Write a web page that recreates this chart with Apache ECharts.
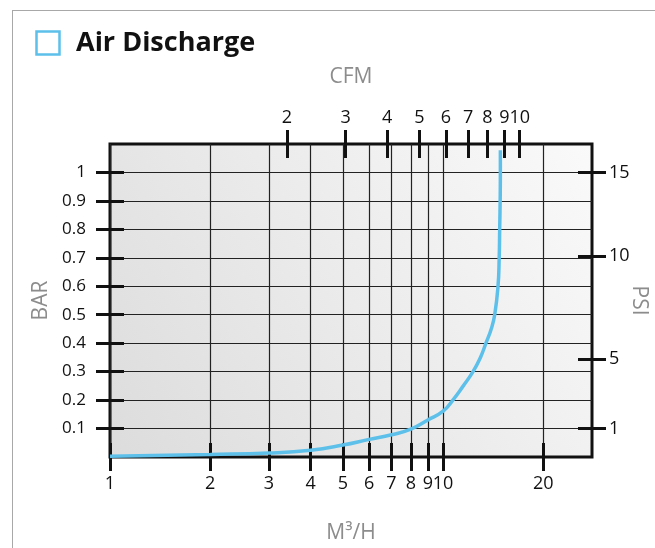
<!DOCTYPE html>
<html>
<head>
<meta charset="utf-8">
<script src="https://cdn.jsdelivr.net/npm/echarts@6/dist/echarts.min.js"></script>
<style>
  html, body { margin: 0; padding: 0; background: #fff; overflow: hidden; }
  .card-frame {
    position: absolute; left: 12px; top: 10px; width: 700px; height: 600px;
    border-left: 1.5px solid #a8a8a8; border-top: 1.5px solid #a8a8a8;
  }
  #chart { position: absolute; left: 0; top: 0; width: 655px; height: 548px; }
</style>
</head>
<body>
<div class="card-frame"></div>
<div id="chart"></div>
<script>
// flow in m3/h vs. pressure in bar
const flowM3h = [1, 2, 3, 4, 5, 6, 7, 8, 9, 10, 10.7, 11.5, 12.3, 12.95, 13.45, 13.95, 14.29, 14.62, 14.74, 14.79, 14.84, 14.86, 14.86];
const pressureBar = [0.003, 0.009, 0.014, 0.024, 0.042, 0.062, 0.078, 0.098, 0.13, 0.161, 0.2, 0.25, 0.3, 0.35, 0.4, 0.45, 0.5, 0.6, 0.7, 0.8, 0.9, 1.0, 1.078];

const m3hTicks = [1, 2, 3, 4, 5, 6, 7, 8, 9, 10, 20];
const cfmTicks = [2, 3, 4, 5, 6, 7, 8, 9, 10];
const barTicks = [0.1, 0.2, 0.3, 0.4, 0.5, 0.6, 0.7, 0.8, 0.9, 1];
const psiLabels = [1, 5, 10, 15];
const psiAtBar = [0.1, 0.345, 0.7065, 1.0]; // where the psi marks sit on the bar scale

const M3H_TO_CFM = 0.5886;
const X_MIN = 1, X_MAX = 28;
const Y_MAX = 1.1;

const font = "'Open Sans', 'Noto Sans', sans-serif";
const ink = "#111";
const tickStyle = { color: ink, width: 3 };
const nameStyle = { color: "#8c8c8c", fontSize: 21, fontFamily: font };

const chart = echarts.init(document.getElementById("chart"), null, { renderer: "canvas" });

chart.setOption({
  animation: false,
  textStyle: { fontFamily: font },
  title: {
    text: "Air Discharge",
    left: 71,
    top: 25,
    textStyle: { fontSize: 27, fontWeight: "bold", color: ink, fontFamily: font },
  },
  graphic: [
    {
      type: "rect",
      left: 34,
      top: 29,
      shape: { width: 23, height: 23 },
      style: { fill: "none", stroke: "#5cc0ea", lineWidth: 2.5 },
    },
  ],
  grid: {
    left: 110,
    right: 63,
    top: 144,
    bottom: 91,
    outerBoundsMode: "none",
    containLabel: false,
    show: true,
    borderColor: ink,
    borderWidth: 3,
    backgroundColor: {
      type: "linear",
      x: 0, y: 1, x2: 1, y2: 0,
      colorStops: [
        { offset: 0, color: "#dcdcdc" },
        { offset: 1, color: "#fafafa" },
      ],
    },
  },
  xAxis: [
    {
      type: "log",
      position: "bottom",
      min: X_MIN,
      max: X_MAX,
      offset: -14,
      name: "M³/H",
      nameLocation: "middle",
      nameGap: 80,
      nameTextStyle: nameStyle,
      axisLine: { show: false, onZero: false },
      axisTick: { show: true, customValues: m3hTicks, length: 28, lineStyle: tickStyle },
      axisLabel: { customValues: m3hTicks, color: ink, fontSize: 18, margin: 32, fontFamily: font },
      splitLine: { show: true, lineStyle: { color: "#222", width: 1.2 } },
    },
    {
      type: "log",
      position: "top",
      min: X_MIN * M3H_TO_CFM,
      max: X_MAX * M3H_TO_CFM,
      offset: -14,
      name: "CFM",
      nameLocation: "middle",
      nameGap: 70,
      nameTextStyle: nameStyle,
      axisLine: { show: false, onZero: false },
      axisTick: { show: true, customValues: cfmTicks, length: 28, lineStyle: tickStyle },
      axisLabel: { customValues: cfmTicks, color: ink, fontSize: 18, margin: 31, fontFamily: font },
      splitLine: { show: false },
    },
  ],
  yAxis: [
    {
      type: "value",
      position: "left",
      min: 0,
      max: Y_MAX,
      offset: -14,
      name: "BAR",
      nameLocation: "middle",
      nameGap: 70,
      nameTextStyle: nameStyle,
      axisLine: { show: false, onZero: false },
      axisTick: { show: true, customValues: barTicks, length: 28, lineStyle: tickStyle },
      axisLabel: { customValues: barTicks, color: ink, fontSize: 17, margin: 38, fontFamily: font },
      splitLine: { show: true, lineStyle: { color: "#222", width: 1.2 } },
    },
    {
      type: "value",
      position: "right",
      min: 0,
      max: Y_MAX,
      offset: -14,
      name: "PSI",
      nameLocation: "middle",
      nameRotate: -90,
      nameGap: 50,
      nameMoveOverlap: false,
      nameTextStyle: nameStyle,
      axisLine: { show: false, onZero: false },
      axisTick: { show: true, customValues: psiAtBar, length: 28, lineStyle: tickStyle },
      axisLabel: {
        customValues: psiAtBar,
        color: ink,
        fontSize: 18,
        margin: 31,
        fontFamily: font,
        formatter: (v) => {
          const i = psiAtBar.findIndex((p) => Math.abs(p - v) < 1e-6);
          return i >= 0 ? String(psiLabels[i]) : "";
        },
      },
      splitLine: { show: false },
    },
  ],
  series: [
    {
      type: "line",
      xAxisIndex: 0,
      yAxisIndex: 0,
      data: flowM3h.map((f, i) => [f, pressureBar[i]]),
      showSymbol: false,
      smooth: 0.5,
      lineStyle: { color: "#5cc0ea", width: 3.5 },
    },
  ],
});
</script>
</body>
</html>
